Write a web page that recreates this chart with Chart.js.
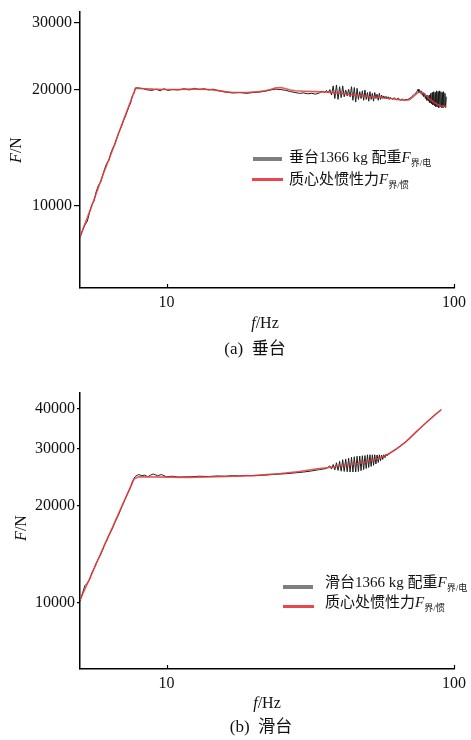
<!DOCTYPE html>
<html>
<head>
<meta charset="utf-8">
<script src="https://cdn.jsdelivr.net/npm/chart.js@4.4.0/dist/chart.umd.min.js"></script>
<style>
  body { margin:0; background:#fff; }
  #wrap { position:relative; width:471px; height:740px; overflow:hidden; background:#fff;
          font-family:"Liberation Serif","Noto Sans CJK SC",serif; color:#111; }
  canvas { position:absolute; left:0; }
  .lbl { position:absolute; white-space:nowrap; transform:translate(-50%,-50%); font-size:16px; }
  .rot { transform:translate(-50%,-50%) rotate(-90deg); }
  .leg { position:absolute; white-space:nowrap; font-size:15px; line-height:18px; transform:translateY(-50%); }
  .leg i, .lbl i { font-style:italic; }
  .sub { font-size:9px; position:relative; top:4px; }
  .swatch { position:absolute; }
  .cap { font-size:17px; }
</style>
</head>
<body>
<div id="wrap">
  <canvas id="chartA" width="471" height="320" style="top:0"></canvas>
  <canvas id="chartB" width="471" height="320" style="top:380px"></canvas>

  <div class="lbl rot" style="left:16px;top:150px"><i>F</i>/N</div>
  <div class="lbl" style="left:265px;top:323px"><i>f</i>/Hz</div>
  <div class="lbl cap" style="left:255px;top:346px">(a)&nbsp; 垂台</div>

  <div class="swatch" style="left:253px;top:157px;width:29px;height:4px;background:#7f7f7f"></div>
  <div class="leg" style="left:289px;top:158px">垂台1366 kg 配重<i>F</i><span class="sub">界/电</span></div>
  <div class="swatch" style="left:252px;top:178px;width:31px;height:3px;background:#e8484c"></div>
  <div class="leg" style="left:289px;top:180px">质心处惯性力<i>F</i><span class="sub">界/惯</span></div>

  <div class="lbl rot" style="left:21px;top:528px"><i>F</i>/N</div>
  <div class="lbl" style="left:267px;top:703px"><i>f</i>/Hz</div>
  <div class="lbl cap" style="left:261px;top:724px">(b)&nbsp; 滑台</div>

  <div class="swatch" style="left:283px;top:585px;width:30px;height:4px;background:#7f7f7f"></div>
  <div class="leg" style="left:325px;top:583px">滑台1366 kg 配重<i>F</i><span class="sub">界/电</span></div>
  <div class="swatch" style="left:283px;top:605px;width:31px;height:3px;background:#e8484c"></div>
  <div class="leg" style="left:325px;top:603px">质心处惯性力<i>F</i><span class="sub">界/惯</span></div>
</div>
<script>
// tick labels
var xTicks = [10, 100];
var yTicksA = [10000, 20000, 30000];
var yTicksB = [10000, 20000, 30000, 40000];

// (a) 垂台 - measured (black)
var freqA_meas = [5.0,5.1,5.2,5.3,5.4,5.5,5.6,5.7,5.8,5.9,6.0,6.1,6.2,6.3,6.4,6.5,6.6,6.7,6.8,6.9,7.0,7.1,7.2,7.3,7.4,7.5,7.6,7.7,7.8,
  8.0,8.3,8.6,8.9,9.2,9.5,9.8,10.1,10.5,11,11.5,12,12.5,13,13.5,14,14.5,15,16,17,18,19,20,21,22,23,24,25,26,27,28,29,30,31,32,33,34,
  35,35.5,36,36.5,37,37.5,38,38.5,39,39.5,40,40.5,41,41.5,42,42.5,43,43.5,44,44.5,45,45.5,46,46.5,47,47.5,48,48.5,49,49.5,
  50,50.5,51,51.5,52,52.5,53,53.5,54,54.5,55,55.5,56,56.5,57,57.5,58,58.5,59,59.5,60,61,62,63,64,65,66,67,68,69,70,
  71,72,73,74,75,75.5,76,76.5,77,77.5,78,78.5,79,79.5,80,80.5,81,81.5,82,82.5,83,83.5,84,84.5,85,85.5,86,86.5,87,87.5,
  88,88.5,89,89.5,90,90.5,91,91.5,92,92.5,93,93.5,94];
var forceA_meas = [8250,8600,8900,9100,9600,10050,10300,10900,11300,11500,12000,12500,12900,13100,13700,14100,14400,14900,15400,15800,16200,16700,17100,17600,18100,18500,19300,19600,20250,
  20250,20150,20000,19950,20100,19900,20150,19950,20050,20000,20150,20000,20200,20050,20150,20000,20100,19950,19750,19650,19700,19600,19700,19750,19850,20000,20100,20050,19950,19800,19700,19600,19650,19550,19600,19500,19650,
  19850,19700,19950,19650,20050,19400,20500,19000,20600,18900,20400,19100,20500,19200,20000,19300,20100,19200,20400,18800,20300,18600,20200,18900,19800,19000,19900,18800,20000,18900,
  19700,18700,19800,18900,19600,18700,19700,19000,19500,18800,19600,18900,19400,19000,19300,19000,19250,18950,19200,18900,19150,18900,19100,18850,19050,18800,18950,18800,18900,18900,19000,
  19150,19350,19550,19700,20100,19700,19950,19600,19900,19400,19700,19200,19600,19000,19400,18800,19300,18700,19400,18500,19600,18400,19700,18300,19800,18200,19700,18100,19900,18100,
  19800,18000,19900,18100,19800,18000,19700,18000,19800,18100,19600,18000,19200];

// (a) 垂台 - inertial force (red)
var freqA_calc = [5.0,5.5,6.0,6.5,7.0,7.5,7.8,8.5,9,10,11,12,13,14,15,16,17,18,19,20,21,22,23,24,25,26,27,28,30,33,36,40,45,50,55,60,65,68,70,72,75,77,79,82,85,88,91,94];
var forceA_calc = [8300,10000,12000,14000,16300,18700,20200,20150,20100,20050,20050,20100,20100,20050,19950,19800,19700,19700,19700,19750,19800,19900,20050,20250,20300,20150,20000,19900,19850,19800,19750,19600,19400,19250,19150,19000,18850,18800,18850,19200,19700,19750,19500,19000,18600,18300,18150,18100];

// (b) 滑台 - measured (black)
var freqB_meas = [5.0,5.1,5.2,5.3,5.4,5.5,5.6,5.7,5.8,5.9,6.0,6.1,6.2,6.3,6.4,6.5,6.6,6.7,6.8,6.9,7.0,7.1,7.2,7.3,7.4,7.5,7.6,7.7,7.8,
  8.0,8.2,8.4,8.6,8.8,9.0,9.3,9.6,10,10.5,11,12,13,14,15,16,17,18,19,20,22,24,26,28,30,32,34,36,
  37,37.5,38,38.5,39,39.5,40,40.5,41,41.5,42,42.5,43,43.5,44,44.5,45,45.5,46,46.5,47,47.5,48,48.5,49,49.5,
  50,50.5,51,51.5,52,52.5,53,53.5,54,54.5,55,55.5,56,56.5,57,57.5,58,58.5,59,59.5,60,63,66,70,73,76,80,84,88,90.3];
var forceB_meas = [10100,10700,11300,11500,11800,12400,12800,13300,13700,14100,14600,15200,15600,16200,16600,17100,17700,18200,18700,19300,19900,20500,21100,21700,22300,22900,23700,24300,24700,
  25000,24800,24900,24600,24900,25100,24800,25000,24600,24700,24550,24600,24700,24650,24750,24700,24800,24750,24850,24800,24900,25050,25150,25300,25450,25650,25900,26100,
  26600,26000,26850,25850,27200,25750,27500,25600,27800,25550,27950,25500,28100,25450,28300,25450,28400,25450,28500,25550,28550,25700,28600,25900,28650,26100,
  28800,26300,28800,26500,28800,26700,28800,26950,28750,27250,28800,27550,28750,27850,28800,28200,28900,28550,29050,28950,29200,30000,31000,32300,33500,34700,36200,37700,39000,39800];

// (b) 滑台 - inertial force (red)
var freqB_calc = [5.0,5.5,6.0,6.5,7.0,7.5,7.7,8,10,12,15,20,25,29,33,38,42,46.5,50,55,59,63,68,73,78,83,87,90.3];
var forceB_calc = [10200,12300,14700,17200,20000,22900,24200,24600,24550,24500,24600,24800,25200,25550,26000,26400,26750,27050,27500,28100,28900,30000,31600,33600,35500,37300,38700,39700];

function pairs(xs, ys) {
  var out = [];
  for (var i = 0; i < xs.length; i++) out.push({x: xs[i], y: ys[i]});
  return out;
}

// x ticks in the picture point inward
var innerTicks = {
  id: 'innerTicks',
  afterDraw: function(chart) {
    var sx = chart.scales.x, ctx = chart.ctx;
    ctx.save();
    ctx.strokeStyle = '#000';
    ctx.lineWidth = 1.2;
    sx.ticks.forEach(function(t) {
      var px = Math.round(sx.getPixelForValue(t.value)) + 0.5;
      ctx.beginPath();
      ctx.moveTo(px, sx.top);
      ctx.lineTo(px, sx.top - 4);
      ctx.stroke();
    });
    ctx.restore();
  }
};

var tickFont = {family: "'Liberation Serif', serif", size: 16};

function makeChart(id, meas, calc, yMin, yMax, yTicks, padTop, xHeight, tickLen) {
  var ctx = document.getElementById(id).getContext('2d');
  return new Chart(ctx, {
    type: 'line',
    data: {
      datasets: [
        {
          label: 'calc',
          data: calc,
          borderColor: 'rgba(228,60,64,0.85)',
          borderWidth: 1.6,
          pointRadius: 0,
          tension: 0
        },
        {
          label: 'meas',
          data: meas,
          borderColor: '#1e1e1e',
          borderWidth: 1,
          pointRadius: 0,
          tension: 0
        }
      ]
    },
    options: {
      responsive: false,
      animation: false,
      layout: {padding: {left: 0, right: 15, top: padTop, bottom: 0}},
      plugins: {legend: {display: false}, tooltip: {enabled: false}},
      scales: {
        x: {
          type: 'logarithmic',
          min: 5,
          max: 100,
          afterBuildTicks: function(s) { s.ticks = xTicks.map(function(v) { return {value: v}; }); },
          afterFit: function(s) { s.height = xHeight; },
          grid: {display: false, drawTicks: false},
          border: {display: true, color: '#000', width: 1.5},
          ticks: {padding: 5, color: '#111', font: tickFont, maxRotation: 0,
                  callback: function(v) { return String(v); }}
        },
        y: {
          type: 'logarithmic',
          min: yMin,
          max: yMax,
          afterBuildTicks: function(s) { s.ticks = yTicks.map(function(v) { return {value: v}; }); },
          afterFit: function(s) { s.width = 80; },
          grid: {display: true, drawOnChartArea: false, drawTicks: true, tickLength: tickLen, color: '#000', lineWidth: 1.2},
          border: {display: true, color: '#000', width: 1.5},
          ticks: {padding: 2, color: '#111', font: tickFont,
                  callback: function(v) { return String(v); }}
        }
      }
    },
    plugins: [innerTicks]
  });
}

makeChart('chartA', pairs(freqA_meas, forceA_meas), pairs(freqA_calc, forceA_calc), 6100, 32000, yTicksA, 10, 32, 6);
makeChart('chartB', pairs(freqB_meas, forceB_meas), pairs(freqB_calc, forceB_calc), 6223, 44790, yTicksB, 13, 31, 3);
</script>
</body>
</html>
